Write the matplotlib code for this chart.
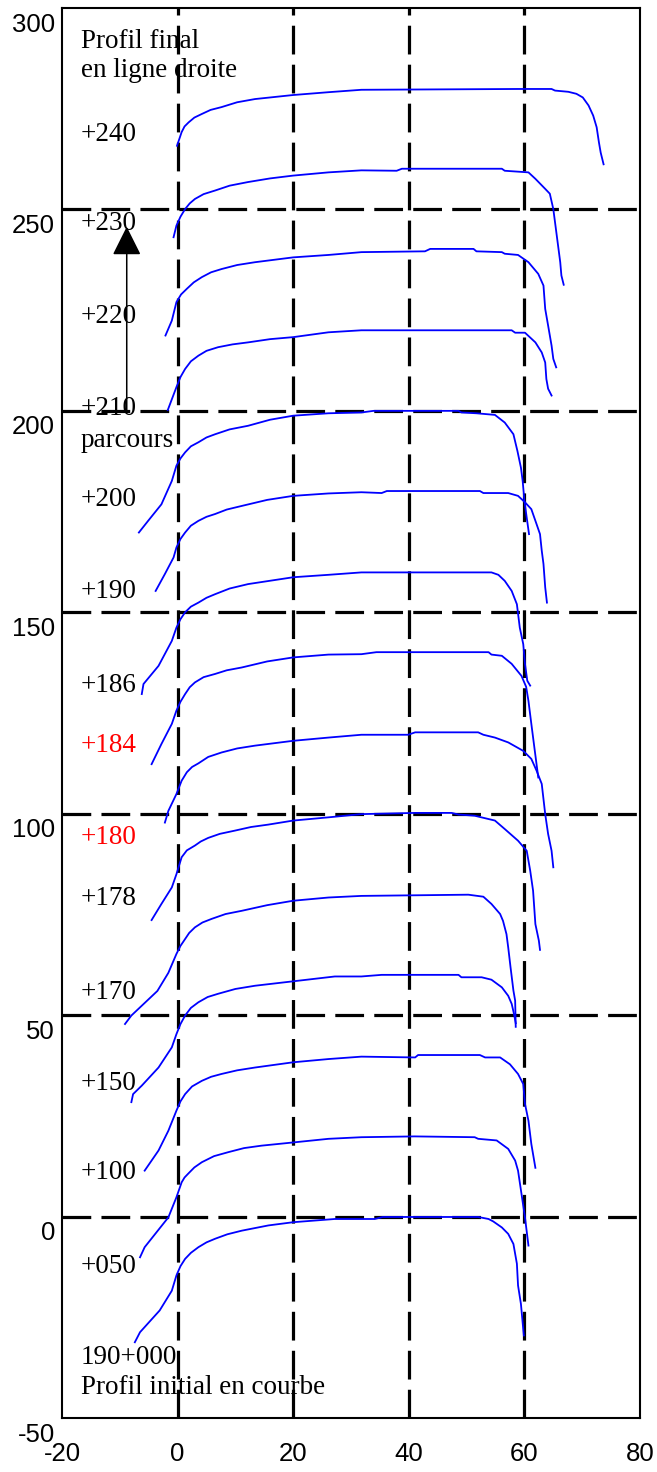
import matplotlib
matplotlib.use("Agg")
import matplotlib.pyplot as plt
import matplotlib.transforms as mtransforms

# profils relevés (abscisse, hauteur décalée de 20 par profil)
x_000 = [-7.4, -6.5, -3.1, -1.0, -0.2, 0.5, 1.3, 2.3, 3.6, 5.0, 6.5, 8.6, 11.1, 15.7, 20.0, 27.2, 34.1, 35.5, 52.0, 53.8, 54.6, 56.1, 57.2, 58.1, 58.7, 58.9, 59.4, 59.9]
y_000 = [-31.2, -28.7, -23.3, -18.4, -14.6, -12.3, -10.5, -9.0, -7.6, -6.4, -5.5, -4.4, -3.5, -2.2, -1.4, -0.6, -0.6, -0.1, -0.1, -0.6, -1.2, -2.7, -4.3, -6.8, -11.7, -17.1, -21.7, -29.5]

x_050 = [-6.5, -5.7, -1.6, -0.2, 0.7, 1.2, 1.8, 2.9, 4.2, 6.3, 8.8, 11.5, 14.5, 20.0, 26.1, 31.8, 41.0, 51.4, 52.0, 55.2, 57.2, 58.4, 58.9, 59.5, 60.1, 60.7]
y_050 = [-10.1, -7.6, -0.2, 4.8, 8.5, 9.7, 10.6, 12.2, 13.5, 15.0, 16.0, 17.0, 17.6, 18.4, 19.3, 19.7, 19.9, 19.7, 19.3, 18.9, 16.8, 13.9, 11.4, 5.6, -0.2, -7.2]

x_100 = [-5.7, -3.3, -1.6, -0.2, 0.5, 1.3, 2.5, 4.2, 5.8, 7.6, 10.3, 13.4, 20.0, 26.1, 31.8, 41.1, 41.6, 52.3, 53.2, 55.8, 57.5, 58.9, 59.8, 60.1, 60.7, 61.2, 61.9]
y_100 = [11.4, 16.4, 21.3, 26.3, 28.6, 30.4, 32.3, 33.7, 34.7, 35.4, 36.3, 37.0, 38.3, 39.1, 39.7, 39.5, 40.1, 40.1, 39.5, 39.5, 37.8, 35.4, 32.9, 28.0, 23.8, 18.0, 12.1]

x_150 = [-8.0, -7.7, -6.2, -3.3, -1.0, -0.2, 0.5, 1.3, 2.3, 3.6, 5.2, 7.0, 10.0, 13.4, 20.0, 27.2, 31.8, 35.3, 48.6, 49.1, 52.6, 54.3, 56.1, 57.2, 57.8, 58.2, 58.5]
y_150 = [28.4, 30.4, 32.5, 37.0, 42.0, 45.3, 47.8, 49.9, 51.8, 53.2, 54.5, 55.3, 56.5, 57.3, 58.4, 59.6, 59.6, 60.0, 60.0, 59.4, 59.4, 58.8, 56.9, 54.8, 52.8, 50.3, 48.0]

x_170 = [-9.1, -8.0, -3.5, -1.6, -0.2, 0.5, 1.3, 2.0, 3.0, 4.3, 5.9, 8.3, 11.1, 15.5, 20.0, 26.1, 31.8, 50.3, 52.9, 54.3, 55.8, 56.3, 56.9, 57.2, 57.6, 58.1, 58.4, 58.5]
y_170 = [47.8, 49.9, 56.0, 60.5, 65.2, 67.2, 68.9, 70.4, 71.8, 73.0, 73.9, 75.1, 75.9, 77.3, 78.4, 79.2, 79.6, 79.9, 79.4, 77.6, 75.1, 73.4, 70.1, 66.8, 61.9, 56.1, 53.6, 47.1]

x_178 = [-4.5, -2.8, -1.0, -0.2, 0.7, 1.6, 3.0, 4.0, 5.3, 7.3, 9.9, 12.7, 15.7, 20.0, 26.1, 31.8, 41.1, 47.4, 48.6, 51.4, 54.9, 56.6, 58.9, 60.4, 61.0, 61.5, 61.9, 62.5, 62.7]
y_178 = [73.6, 77.6, 81.7, 85.0, 89.2, 90.9, 92.1, 93.1, 94.0, 95.0, 95.8, 96.7, 97.3, 98.3, 99.1, 99.9, 100.2, 100.2, 99.8, 99.5, 98.3, 96.2, 93.3, 90.8, 85.9, 80.9, 72.6, 68.5, 66.2]

x_180 = [-2.2, -1.6, -0.2, 0.7, 1.6, 2.5, 3.6, 5.3, 7.6, 10.3, 13.4, 20.0, 26.1, 31.8, 39.9, 41.1, 52.0, 52.9, 54.9, 57.2, 59.8, 61.2, 62.1, 63.0, 63.6, 64.1, 64.7, 65.0]
y_180 = [97.8, 100.7, 104.9, 108.2, 110.3, 111.6, 112.5, 114.1, 115.2, 116.2, 116.9, 118.1, 118.9, 119.6, 119.6, 120.2, 120.2, 119.6, 118.9, 117.7, 115.6, 113.6, 110.7, 107.4, 99.9, 95.0, 90.8, 86.7]

x_184 = [-4.5, -2.8, -1.0, -0.2, 0.5, 1.3, 2.1, 3.0, 4.5, 6.5, 8.5, 11.1, 15.5, 20.0, 26.1, 31.8, 34.4, 53.8, 54.3, 56.1, 57.8, 59.5, 60.3, 60.7, 61.2, 61.8, 62.4]
y_184 = [112.3, 117.3, 122.3, 125.6, 127.8, 129.7, 131.4, 132.6, 133.9, 134.7, 135.6, 136.3, 137.8, 138.8, 139.5, 139.6, 140.1, 140.1, 139.5, 139.2, 137.2, 134.2, 131.5, 128.0, 122.3, 115.6, 109.0]

x_186 = [-6.2, -5.9, -3.3, -1.0, -0.2, 0.5, 1.3, 2.3, 3.6, 5.0, 6.5, 9.0, 12.2, 20.0, 26.1, 31.8, 54.3, 55.5, 56.6, 57.8, 58.7, 59.2, 59.8, 60.1, 60.5, 61.0]
y_186 = [129.7, 132.2, 136.7, 142.9, 146.2, 148.3, 150.0, 151.4, 152.4, 153.6, 154.5, 155.9, 157.0, 158.7, 159.3, 159.9, 159.9, 159.3, 157.8, 155.3, 152.0, 146.2, 142.1, 137.2, 133.0, 131.8]

x_190 = [-3.8, -2.2, -0.7, -0.2, 0.5, 1.3, 2.3, 3.6, 5.0, 6.5, 8.5, 11.1, 15.5, 20.0, 26.1, 31.8, 35.3, 36.2, 52.3, 52.9, 57.2, 58.9, 60.1, 61.2, 62.1, 62.7, 63.0, 63.3, 63.6, 63.9]
y_190 = [155.3, 159.5, 163.6, 166.1, 168.2, 169.8, 171.5, 172.7, 173.7, 174.4, 175.5, 176.4, 177.9, 178.9, 179.5, 179.8, 179.6, 180.1, 180.1, 179.6, 179.6, 178.9, 177.3, 175.6, 171.9, 169.4, 165.3, 162.0, 156.2, 152.4]

x_200 = [-6.7, -5.1, -2.8, -1.0, -0.2, 0.5, 1.3, 2.3, 3.6, 5.0, 6.5, 9.0, 12.2, 16.0, 20.0, 26.1, 31.8, 33.9, 48.6, 49.1, 51.7, 54.9, 56.6, 58.1, 58.8, 59.4, 59.7, 60.0, 60.4, 60.8]
y_200 = [169.8, 172.7, 176.8, 182.6, 186.4, 188.2, 189.7, 191.2, 192.2, 193.4, 194.2, 195.4, 196.3, 197.8, 198.8, 199.4, 199.6, 200.0, 200.0, 199.6, 199.4, 199.0, 197.1, 194.2, 190.0, 185.9, 182.6, 177.7, 173.5, 169.4]

x_210 = [-1.7, -0.2, 0.5, 1.3, 2.3, 3.6, 5.0, 7.0, 9.5, 12.2, 16.0, 20.0, 26.1, 31.8, 57.8, 58.4, 60.1, 61.9, 63.0, 63.6, 63.8, 64.1, 64.7]
y_210 = [200.2, 205.9, 208.4, 210.4, 212.3, 213.7, 214.9, 215.8, 216.5, 217.0, 217.8, 218.3, 219.5, 220.0, 220.0, 219.4, 219.4, 217.0, 214.5, 212.0, 207.9, 205.5, 203.8]

x_220 = [-2.1, -1.0, -0.2, 0.6, 1.6, 2.8, 4.2, 5.8, 7.6, 10.3, 13.4, 20.0, 26.1, 31.8, 42.8, 43.7, 51.2, 51.7, 56.1, 56.6, 58.9, 60.7, 62.4, 63.3, 63.6, 64.1, 64.7, 65.0, 65.5]
y_220 = [218.7, 222.4, 227.0, 228.9, 230.3, 231.9, 233.2, 234.4, 235.2, 236.2, 236.9, 238.1, 238.7, 239.4, 239.6, 240.2, 240.2, 239.6, 239.4, 239.0, 238.7, 236.9, 234.0, 231.1, 225.3, 221.2, 216.2, 212.9, 210.8]

x_230 = [-0.7, -0.2, 0.5, 1.3, 2.1, 3.0, 4.5, 6.5, 9.0, 12.2, 16.0, 20.0, 26.1, 31.8, 37.9, 38.8, 56.1, 56.6, 60.7, 61.9, 63.6, 64.4, 65.0, 65.6, 66.2, 66.4, 66.8]
y_230 = [243.1, 246.0, 248.2, 250.1, 251.5, 252.6, 253.8, 254.7, 255.9, 256.8, 257.7, 258.4, 259.2, 259.7, 259.6, 260.1, 260.1, 259.6, 259.2, 257.6, 255.1, 253.9, 250.1, 243.5, 236.9, 233.6, 231.3]

x_240 = [-0.1, 0.7, 1.2, 1.9, 2.9, 4.2, 5.7, 7.6, 10.3, 13.4, 20.0, 26.1, 31.8, 58.9, 64.7, 65.3, 67.6, 69.0, 70.1, 71.1, 71.9, 72.5, 72.9, 73.2, 73.7]
y_240 = [265.8, 269.2, 270.6, 271.6, 272.8, 273.7, 274.7, 275.4, 276.6, 277.4, 278.4, 279.1, 279.7, 279.9, 279.9, 279.5, 279.2, 278.7, 277.8, 275.8, 273.3, 270.4, 266.6, 264.1, 261.2]

# étiquettes des profils
labels = ["190+000", "+050", "+100", "+150", "+170", "+178", "+180", "+184",
          "+186", "+190", "+200", "+210", "+220", "+230", "+240"]
label_y = [-35.0, -12.4, 10.9, 33.0, 55.6, 78.9, 94.0, 116.9,
           131.8, 155.1, 178.1, 200.7, 223.3, 246.4, 268.7]
label_red = ["+180", "+184"]

profils = [(x_000, y_000), (x_050, y_050), (x_100, y_100), (x_150, y_150),
           (x_170, y_170), (x_178, y_178), (x_180, y_180), (x_184, y_184),
           (x_186, y_186), (x_190, y_190), (x_200, y_200), (x_210, y_210),
           (x_220, y_220), (x_230, y_230), (x_240, y_240)]

plt.rcParams['axes.unicode_minus'] = False
serif = "Liberation Serif"
fs = 19.5

fig = plt.figure(figsize=(6.57, 14.72), dpi=100)
ax = fig.add_axes([62/657, 54/1472, 578/657, 1410/1472])

for gx in [0, 20, 40, 60]:
    ax.axvline(gx, color="k", lw=2.3, linestyle=(0, (9, 3.2)), zorder=1)
for gy in [0, 50, 100, 150, 200, 250]:
    ax.axhline(gy, color="k", lw=2.3, linestyle=(0, (9, 3.2)), zorder=1)

for px, py in profils:
    ax.plot(px, py, color="#0000ff", lw=1.3, zorder=3)

for lab, ly in zip(labels, label_y):
    c = "#ff0000" if lab in label_red else "k"
    ax.text(-16.7, ly, lab, color=c, fontsize=fs, family=serif, va="center", ha="left", zorder=4)

ax.text(-16.7, 291.8, "Profil final", fontsize=fs, family=serif, va="center", ha="left")
ax.text(-16.7, 284.4, "en ligne droite", fontsize=fs, family=serif, va="center", ha="left")
ax.text(-16.7, 192.6, "parcours", fontsize=fs, family=serif, va="center", ha="left")
ax.text(-16.7, -42.4, "Profil initial en courbe", fontsize=fs, family=serif, va="center", ha="left")

ax.annotate("", xy=(-8.8, 245.7), xytext=(-8.8, 200.0),
            arrowprops=dict(arrowstyle="-|>,head_length=0.9,head_width=0.45",
                            mutation_scale=20, color="k", lw=1.1,
                            shrinkA=0, shrinkB=0))

ax.set_xlim(-20, 80)
ax.set_ylim(-50, 300)
ax.set_xticks([-20, 0, 20, 40, 60, 80])
ax.set_yticks([-50, 0, 50, 100, 150, 200, 250, 300])
ax.tick_params(length=0, labelsize=18.5, pad=5)
ax.tick_params(axis="x", pad=17)
for t in ax.get_xticklabels() + ax.get_yticklabels():
    t.set_family("Liberation Sans")
off = mtransforms.ScaledTranslation(0, -14/100, fig.dpi_scale_trans)
for t in ax.get_yticklabels():
    t.set_transform(t.get_transform() + off)
for s in ax.spines.values():
    s.set_linewidth(1.5)

fig.savefig("out.png", dpi=100)
